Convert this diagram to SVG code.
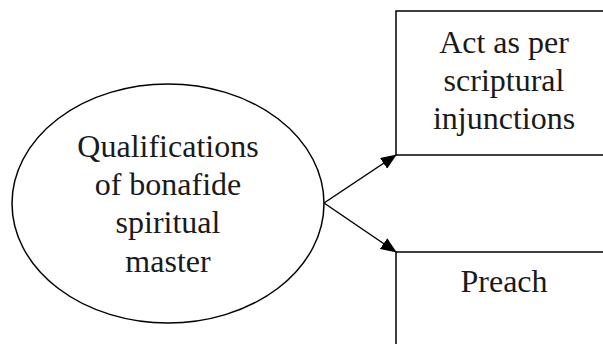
<svg xmlns="http://www.w3.org/2000/svg" width="603" height="344" viewBox="0 0 603 344">
<style>
.shape{fill:#fff;stroke:#000;stroke-width:1.5}
.t{font-family:"Liberation Serif","Times New Roman",serif;font-size:32px;fill:#1a1a1a;text-anchor:middle}
.edge{stroke:#000;stroke-width:1.5;fill:none}
</style>
<defs>
<marker id="arr" markerWidth="16" markerHeight="13" refX="15" refY="6.5" orient="auto" markerUnits="userSpaceOnUse" viewBox="0 0 16 13">
<path d="M0,0 L16,6.5 L0,13 z" fill="#000"/>
</marker>
</defs>
<rect width="603" height="344" fill="#fff"/>
<g id="master">
<ellipse class="shape" cx="168" cy="203.5" rx="156" ry="119.5"/>
<text class="t" x="168" y="157">Qualifications</text>
<text class="t" x="168" y="195">of bonafide</text>
<text class="t" x="168" y="233">spiritual</text>
<text class="t" x="168" y="272">master</text>
</g>
<g id="act">
<rect class="shape" x="396" y="11" width="220" height="144"/>
<text class="t" x="504" y="53">Act as per</text>
<text class="t" x="504" y="91">scriptural</text>
<text class="t" x="504" y="129">injunctions</text>
</g>
<g id="preach">
<rect class="shape" x="396" y="252" width="220" height="110"/>
<text class="t" x="504" y="292">Preach</text>
</g>
<g id="connectors">
<line class="edge" x1="324" y1="203" x2="396" y2="155" marker-end="url(#arr)"/>
<line class="edge" x1="324" y1="203" x2="396" y2="252" marker-end="url(#arr)"/>
</g>
</svg>
